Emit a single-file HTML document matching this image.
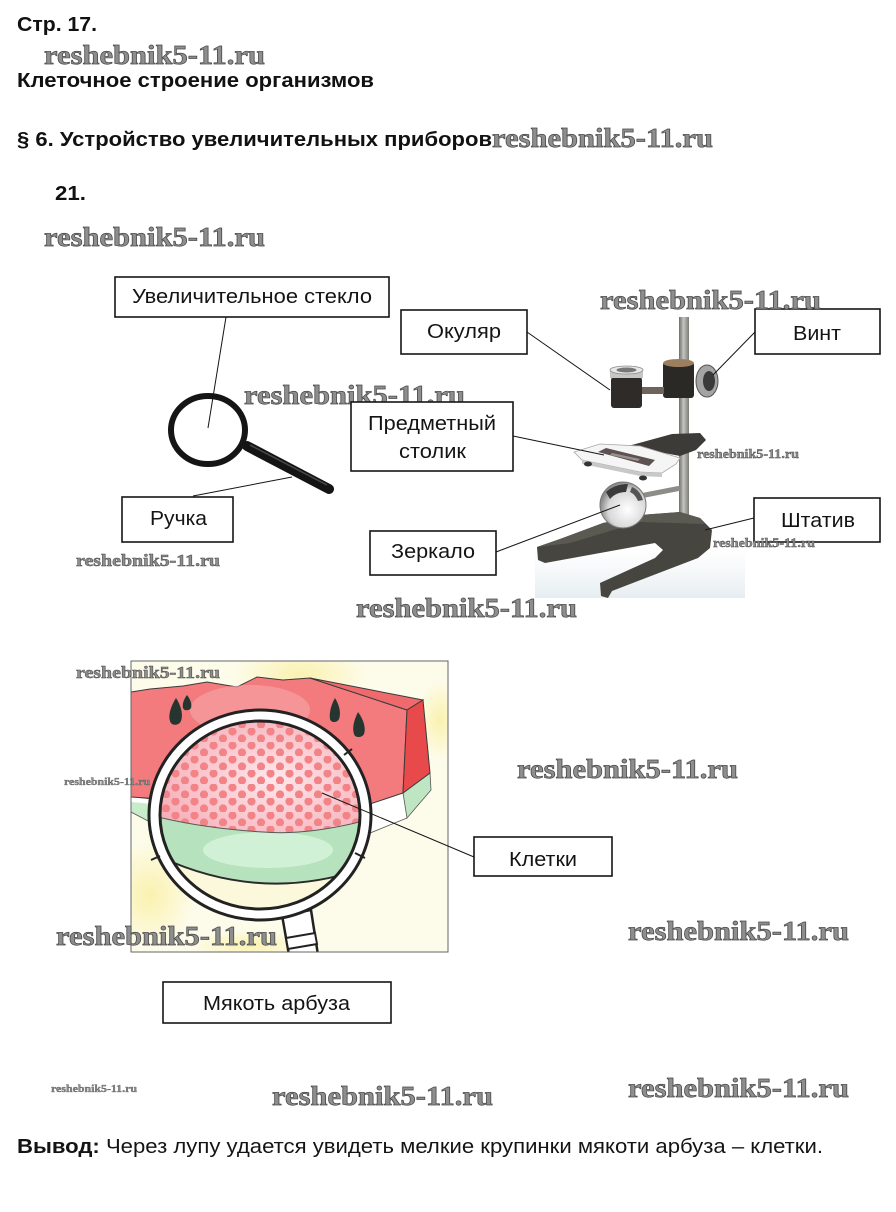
<!DOCTYPE html>
<html><head><meta charset="utf-8"><style>
html,body{margin:0;padding:0;background:#fff;}
svg{display:block;}
.h{font-family:"Liberation Sans",Arial,sans-serif;font-weight:bold;font-size:20px;fill:#111;}
.l{font-family:"Liberation Sans",Arial,sans-serif;font-size:20px;fill:#141414;}
.w{font-family:"Liberation Serif","DejaVu Serif",serif;font-weight:bold;fill:#8e8e8e;stroke:#474747;stroke-width:0.7px;}
.box{fill:#fff;stroke:#151515;stroke-width:1.6;}
.c{stroke:#151515;stroke-width:1;fill:none;}
</style></head><body>
<svg width="896" height="1212" viewBox="0 0 896 1212" xmlns="http://www.w3.org/2000/svg">
<defs>
 <pattern id="dots" x="0" y="0" width="19" height="14" patternUnits="userSpaceOnUse">
  <circle cx="4.5" cy="3.5" r="4.1" fill="#f28387"/>
  <circle cx="14" cy="10.5" r="4.1" fill="#f28387"/>
 </pattern>
 <clipPath id="lens"><ellipse cx="260" cy="815" rx="99" ry="93"/></clipPath>
 <clipPath id="frame"><rect x="131" y="661" width="317" height="291"/></clipPath>
 <radialGradient id="pinkg" cx="0.55" cy="0.6" r="0.6">
  <stop offset="0" stop-color="#fde8ec"/><stop offset="1" stop-color="#f6aab4"/>
 </radialGradient>
 <radialGradient id="yel1" cx="0.5" cy="0.5" r="0.5">
  <stop offset="0" stop-color="#faf0a8" stop-opacity="0.9"/><stop offset="1" stop-color="#faf0a8" stop-opacity="0"/>
 </radialGradient>
 <linearGradient id="pole" x1="0" y1="0" x2="1" y2="0">
  <stop offset="0" stop-color="#6f6e69"/><stop offset="0.45" stop-color="#c4c4c0"/><stop offset="1" stop-color="#7c7b76"/>
 </linearGradient>
 <radialGradient id="mirror" cx="0.6" cy="0.6" r="0.6">
  <stop offset="0" stop-color="#ffffff"/><stop offset="0.7" stop-color="#d8d8d8"/><stop offset="1" stop-color="#8a8a8a"/>
 </radialGradient>
 <linearGradient id="floor" x1="0" y1="0" x2="0" y2="1">
  <stop offset="0" stop-color="#eef2f5" stop-opacity="0"/><stop offset="1" stop-color="#e6edf1" stop-opacity="1"/>
 </linearGradient>
</defs>
<rect width="896" height="1212" fill="#fff"/>

<!-- Headings -->
<text class="h" x="17" y="31" textLength="80" lengthAdjust="spacingAndGlyphs">Стр. 17.</text>
<text class="h" x="17" y="87" textLength="357" lengthAdjust="spacingAndGlyphs">Клеточное строение организмов</text>
<text class="h" x="17" y="146" textLength="475" lengthAdjust="spacingAndGlyphs">§ 6. Устройство увеличительных приборов</text>
<text class="h" x="55" y="200" textLength="31" lengthAdjust="spacingAndGlyphs">21.</text>

<!-- Magnifying glass -->
<line x1="247" y1="446" x2="329" y2="489" stroke="#141414" stroke-width="10" stroke-linecap="round"/>
<line x1="250" y1="445" x2="327" y2="485" stroke="#4a4a4a" stroke-width="1.5"/>
<ellipse cx="208" cy="430" rx="37" ry="34" fill="#fff" stroke="#151515" stroke-width="6"/>

<!-- watermark under boxes -->
<text class="w" x="244" y="404" font-size="27" textLength="221" lengthAdjust="spacingAndGlyphs">reshebnik5-11.ru</text>

<!-- Microscope photo -->
<rect x="535" y="548" width="210" height="50" fill="url(#floor)"/>
<rect x="679" y="317" width="10" height="206" fill="url(#pole)"/>
<path d="M537,547 L560,539 L603,523 L640,515 L680,512 L700,518 L712,530 L710,548 L698,558 L612,591 L608,598 L601,596 L600,583 L655,558 L663,550 L655,543 L600,553 L545,563 L538,560 Z" fill="#46453f"/>
<path d="M537,547 L560,539 L603,523 L640,515 L680,512 L700,518 L706,524 L640,522 L570,543 Z" fill="#5b5a52"/>
<line x1="640" y1="496" x2="681" y2="488" stroke="#8d8c86" stroke-width="5"/>
<circle cx="623" cy="505" r="23" fill="url(#mirror)" stroke="#777" stroke-width="1"/>
<path d="M606,492 Q615,484 628,484 L626,492 Q616,492 610,499 Z" fill="#3a3a3a"/>
<path d="M632,487 Q640,490 643,500 L638,501 Q635,494 630,492 Z" fill="#555"/>
<path d="M628,446 L672,434 L700,433 L706,440 L696,450 L680,456 Z" fill="#3c3b37"/>
<path d="M574,452 L600,444 L640,446 L680,458 L676,464 L662,473 L640,472 L582,460 Z" fill="#f5f5f5" stroke="#a8a8a8" stroke-width="0.8"/>
<path d="M582,460 L640,472 L662,473 L662,477 L640,476 L582,464 Z" fill="#c8c8c8"/>
<ellipse cx="588" cy="464" rx="4" ry="2.5" fill="#333"/>
<ellipse cx="643" cy="478" rx="4" ry="2.5" fill="#333"/>
<path d="M598,452 L606,448 L655,460 L649,466 Z" fill="#5d5252"/>
<path d="M612,453 L640,459 L638,461 L610,455 Z" fill="#9a9090"/>
<rect x="663" y="362" width="31" height="36" rx="3" fill="#2b2926"/>
<ellipse cx="678.5" cy="363" rx="15.5" ry="4" fill="#9c7f5e"/>
<ellipse cx="707" cy="381" rx="11" ry="16" fill="#a4a4a4" stroke="#555" stroke-width="1"/>
<ellipse cx="709" cy="381" rx="6" ry="10" fill="#3a3a3a"/>
<rect x="640" y="387" width="24" height="7" fill="#6d645c"/>
<rect x="611" y="377" width="31" height="31" rx="3" fill="#2e2b28"/>
<rect x="610" y="370" width="33" height="8" fill="#c6c6c6"/>
<ellipse cx="626.5" cy="370" rx="16.5" ry="4" fill="#e8e8e8" stroke="#8a8a8a" stroke-width="0.8"/>
<ellipse cx="626.5" cy="370" rx="10" ry="2.5" fill="#777"/>

<!-- Watermelon picture -->
<g clip-path="url(#frame)">
 <rect x="131" y="661" width="317" height="291" fill="#fdfceb"/>
 <ellipse cx="300" cy="675" rx="70" ry="30" fill="url(#yel1)"/>
 <ellipse cx="440" cy="720" rx="25" ry="40" fill="url(#yel1)"/>
 <ellipse cx="150" cy="895" rx="45" ry="55" fill="url(#yel1)"/>
 <ellipse cx="250" cy="945" rx="60" ry="15" fill="url(#yel1)"/>
 <path d="M131,797 L165,801 L168,823 L150,822 L131,812 Z" fill="#c8ecca" stroke="#555" stroke-width="0.8"/>
 <path d="M131,797 L165,801 L165,805 L131,802 Z" fill="#fff"/>
 <path d="M360,803 L407,792 L407,818 L370,833 L360,828 Z" fill="#ffffff" stroke="#555" stroke-width="0.8"/>
 <path d="M403,793 L430,773 L431,790 L407,818 Z" fill="#bfe6c3" stroke="#555" stroke-width="0.8"/>
 <path d="M131,692 L150,689 L183,686 L207,682 L237,687 L257,677 L283,680 L310,678 L407,710 L403,793 L367,805 L300,808 L131,797 Z" fill="#f37b7e" stroke="#3a3a3a" stroke-width="1"/>
 <ellipse cx="250" cy="710" rx="60" ry="25" fill="#f8a6aa" opacity="0.6"/>
 <path d="M310,678 L423,700 L407,710 Z" fill="#ee6a6c" stroke="#3a3a3a" stroke-width="1"/>
 <path d="M407,710 L423,700 L430,773 L403,793 Z" fill="#e84a4c" stroke="#3a3a3a" stroke-width="1"/>
 <path d="M176,698 C182,707 183,716 181,721 C179,726 171,726 170,721 C168,715 171,706 176,698Z" fill="#263530"/>
 <path d="M187,695 C191,700 192,705 191,708 C189,711 184,711 183,708 C182,704 184,699 187,695Z" fill="#263530"/>
 <path d="M335,698 C340,706 341,714 339,719 C337,723 331,723 330,719 C329,713 331,705 335,698Z" fill="#263530"/>
 <path d="M358,712 C364,720 366,729 364,734 C362,738 355,738 354,734 C352,728 354,720 358,712Z" fill="#263530"/>
 <path d="M282,915 L311,910 L318,955 L289,955 Z" fill="#fff" stroke="#222" stroke-width="2.5"/>
 <path d="M286,938 L315,933 L317,944 L288,949 Z" fill="#fff" stroke="#222" stroke-width="2"/>
 <ellipse cx="260" cy="815" rx="111" ry="105" fill="#fff" stroke="#222" stroke-width="3"/>
 <g clip-path="url(#lens)">
  <rect x="150" y="700" width="230" height="230" fill="#fcf8dc"/>
  <path d="M150,700 L375,700 L375,818 Q310,836 263,832 Q200,828 150,815 Z" fill="url(#pinkg)"/>
  <path d="M150,700 L375,700 L375,818 Q310,836 263,832 Q200,828 150,815 Z" fill="url(#dots)"/>
  <path d="M150,815 Q200,828 263,832 Q310,836 375,818 L375,866 Q263,906 150,852 Z" fill="#b6e2bd"/>
  <ellipse cx="268" cy="850" rx="65" ry="18" fill="#d6f3da" opacity="0.85"/>
  <path d="M150,815 Q200,828 263,832 Q310,836 375,818" fill="none" stroke="#555" stroke-width="1"/>
  <path d="M156,855 Q263,906 370,866" fill="none" stroke="#2a2a2a" stroke-width="2"/>
 </g>
 <ellipse cx="260" cy="815" rx="100" ry="94" fill="none" stroke="#222" stroke-width="3"/>
 <line x1="160" y1="856" x2="151" y2="860" stroke="#222" stroke-width="2"/>
 <line x1="355" y1="853" x2="365" y2="858" stroke="#222" stroke-width="2"/>
 <line x1="344" y1="755" x2="352" y2="749" stroke="#222" stroke-width="2"/>
</g>
<rect x="131" y="661" width="317" height="291" fill="none" stroke="#666" stroke-width="1"/>

<!-- Connectors -->
<line class="c" x1="226" y1="317" x2="208" y2="428"/>
<line class="c" x1="193" y1="496" x2="292" y2="477"/>
<line class="c" x1="527" y1="332" x2="610" y2="390"/>
<line class="c" x1="755" y1="332" x2="713" y2="375"/>
<line class="c" x1="513" y1="436" x2="604" y2="455"/>
<line class="c" x1="496" y1="552" x2="620" y2="505"/>
<line class="c" x1="754" y1="518" x2="705" y2="530"/>
<line class="c" x1="322" y1="793" x2="474" y2="857"/>

<!-- Boxes -->
<rect class="box" x="115" y="277" width="274" height="40"/>
<text class="l" x="132" y="303" textLength="240" lengthAdjust="spacingAndGlyphs">Увеличительное стекло</text>
<rect class="box" x="122" y="497" width="111" height="45"/>
<text class="l" x="150" y="525" textLength="57" lengthAdjust="spacingAndGlyphs">Ручка</text>
<rect class="box" x="401" y="310" width="126" height="44"/>
<text class="l" x="427" y="338" textLength="74" lengthAdjust="spacingAndGlyphs">Окуляр</text>
<rect class="box" x="755" y="309" width="125" height="45"/>
<text class="l" x="793" y="340" textLength="48" lengthAdjust="spacingAndGlyphs">Винт</text>
<rect class="box" x="351" y="402" width="162" height="69"/>
<text class="l" x="368" y="430" textLength="128" lengthAdjust="spacingAndGlyphs">Предметный</text>
<text class="l" x="399" y="458" textLength="67" lengthAdjust="spacingAndGlyphs">столик</text>
<rect class="box" x="370" y="531" width="126" height="44"/>
<text class="l" x="391" y="558" textLength="84" lengthAdjust="spacingAndGlyphs">Зеркало</text>
<rect class="box" x="754" y="498" width="126" height="44"/>
<text class="l" x="781" y="527" textLength="74" lengthAdjust="spacingAndGlyphs">Штатив</text>
<rect class="box" x="474" y="837" width="138" height="39"/>
<text class="l" x="509" y="866" textLength="68" lengthAdjust="spacingAndGlyphs">Клетки</text>
<rect class="box" x="163" y="982" width="228" height="41"/>
<text class="l" x="203" y="1010" textLength="147" lengthAdjust="spacingAndGlyphs">Мякоть арбуза</text>

<!-- Conclusion -->
<text class="l" x="17" y="1153" font-size="21" textLength="806" lengthAdjust="spacingAndGlyphs"><tspan font-weight="bold">Вывод:</tspan> Через лупу удается увидеть мелкие крупинки мякоти арбуза – клетки.</text>

<!-- Watermarks -->
<text class="w" x="44" y="64" font-size="27" textLength="221" lengthAdjust="spacingAndGlyphs">reshebnik5-11.ru</text>
<text class="w" x="492" y="147" font-size="27" textLength="221" lengthAdjust="spacingAndGlyphs">reshebnik5-11.ru</text>
<text class="w" x="44" y="246" font-size="27" textLength="221" lengthAdjust="spacingAndGlyphs">reshebnik5-11.ru</text>
<text class="w" x="600" y="309" font-size="27" textLength="221" lengthAdjust="spacingAndGlyphs">reshebnik5-11.ru</text>
<text class="w" x="356" y="617" font-size="27" textLength="221" lengthAdjust="spacingAndGlyphs">reshebnik5-11.ru</text>
<text class="w" x="517" y="778" font-size="27" textLength="221" lengthAdjust="spacingAndGlyphs">reshebnik5-11.ru</text>
<text class="w" x="628" y="940" font-size="27" textLength="221" lengthAdjust="spacingAndGlyphs">reshebnik5-11.ru</text>
<text class="w" x="56" y="945" font-size="27" textLength="221" lengthAdjust="spacingAndGlyphs">reshebnik5-11.ru</text>
<text class="w" x="272" y="1105" font-size="27" textLength="221" lengthAdjust="spacingAndGlyphs">reshebnik5-11.ru</text>
<text class="w" x="628" y="1097" font-size="27" textLength="221" lengthAdjust="spacingAndGlyphs">reshebnik5-11.ru</text>
<text class="w" x="76" y="566" font-size="17" textLength="144" lengthAdjust="spacingAndGlyphs" style="stroke-width:0.5px">reshebnik5-11.ru</text>
<text class="w" x="76" y="678" font-size="17" textLength="144" lengthAdjust="spacingAndGlyphs" style="stroke-width:0.5px">reshebnik5-11.ru</text>
<text class="w" x="697" y="458" font-size="12.5" textLength="102" lengthAdjust="spacingAndGlyphs" style="stroke-width:0.4px">reshebnik5-11.ru</text>
<text class="w" x="713" y="547" font-size="12.5" textLength="102" lengthAdjust="spacingAndGlyphs" style="stroke-width:0.4px">reshebnik5-11.ru</text>
<text class="w" x="64" y="785" font-size="10.5" textLength="86" lengthAdjust="spacingAndGlyphs" style="stroke-width:0.3px">reshebnik5-11.ru</text>
<text class="w" x="51" y="1092" font-size="10.5" textLength="86" lengthAdjust="spacingAndGlyphs" style="stroke-width:0.3px">reshebnik5-11.ru</text>
</svg>
</body></html>
